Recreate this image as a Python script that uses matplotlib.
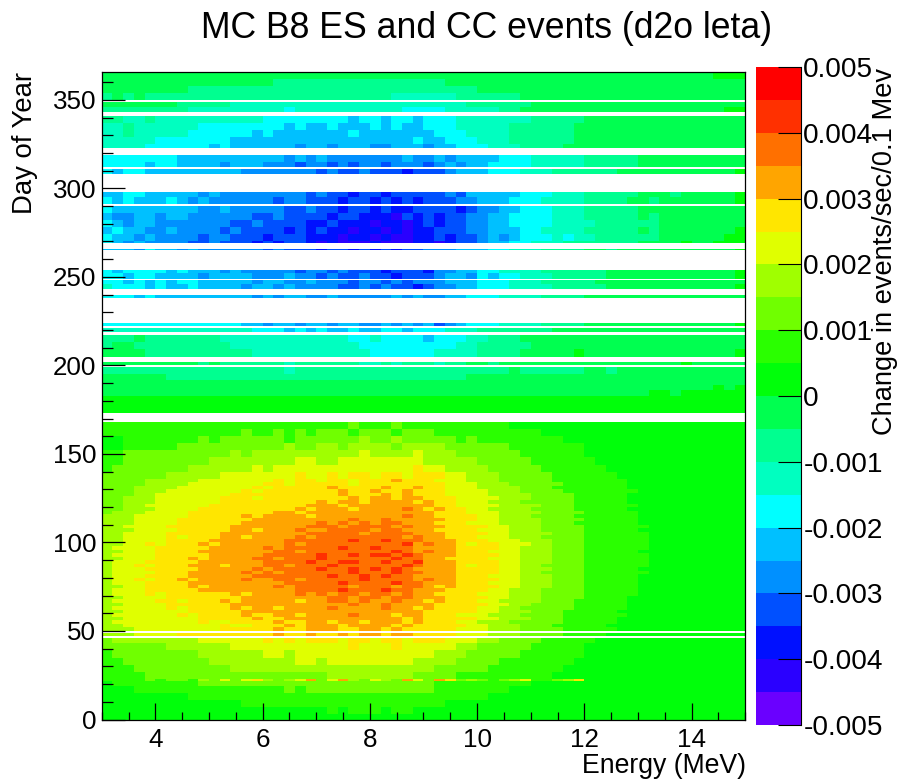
import numpy as np
import matplotlib
matplotlib.use("Agg")
import matplotlib.pyplot as plt
from matplotlib.colors import ListedColormap, BoundaryNorm
from matplotlib.ticker import MultipleLocator

plt.rcParams['font.family'] = ['Liberation Sans', 'DejaVu Sans']

TITLE = "MC B8 ES and CC events (d2o leta)"
XLABEL = "Energy (MeV)"
YLABEL = "Day of Year"
ZLABEL = "Change in events/sec/0.1 Mev"
COLORS = ["#6A00FF", "#2A00FF", "#0010FF", "#0050FF", "#0090FF", "#00C0FF", "#00FFFF",
          "#00FFC0", "#00FF90", "#00FF50", "#00FF0A", "#2AFF00", "#70FF00", "#A0FF00",
          "#E0FF00", "#FFE600", "#FFA500", "#FF7000", "#FF3000", "#FF0000"]
LEVEL_CODES = "ABCDEFGHIJKLMNOPQRST"
Z_EDGES = [-0.005 + 0.0005 * i for i in range(21)]
Z_TICKS = [-0.005, -0.004, -0.003, -0.002, -0.001, 0, 0.001, 0.002, 0.003, 0.004, 0.005]
Z_TICK_LABELS = ["-0.005", "-0.004", "-0.003", "-0.002", "-0.001", "0", "0.001", "0.002", "0.003", "0.004", "0.005"]
ENERGY_EDGES = [3 + 0.2 * i for i in range(61)]
DAY_EDGES = list(range(0, 367))

# (first day, last day, colour level per 0.2 MeV; groups are 1 MeV)
K5 = "KKKKK"
J5 = "JJJJJ"
ROWS = [
    (0, 3, " ".join([K5] * 12)),
    (3, 7, "KKKKK KKKKK KKKKK KKKKK KLKLL LKLLK KKKKK KKKKK KKKKK KKKKK KKKKK KKKKK"),
    (7, 11, "KKKKK KKKKK KKKLL LLLLL LLLLL LLLLL LLKKK KKKKK KKKKK KKKKK KKKKK KKKKK"),
    (11, 15, "KKKKK KKKLL LLLLL LLLLL LLLLL LLLLL LLLLL LKKKK KKKKK KKKKK KKKKK KKKKK"),
    (15, 19, "KKKLL LLLLL LLLLL LLMLM MMMMM MMMMM MLLLL LLLKK KKKKK KKKKK KKKKK KKKKK"),
    (19, 22, "KLLLL LLLLM MMMMM MMMMM MMMMM MMMMM MLLLL LLLLL KKKKK KKKKK KKKKK KKKKK"),
    (22, 23, "LLLLM LMMLN MOMOP NMNOQ MOQNM ONMQO MQPMN MLMNO LLMNP KKKKK KKKKK KKKKK"),
    (23, 27, "LLLLM MMMMM MMMMM MMMMM MNNNN NNNNM MMMLL LLLLL LLKKK KKKKK KKKKK KKKKK"),
    (27, 31, "LLLMM MMMMM MMNNN NNNNN NNNNN NNNNN NMMMM MLLLL LLLKK KKKKK KKKKK KKKKK"),
    (31, 35, "LLMMM MMMMM NNNNN NNNOO NOOOO OOOON NNNMM MMLLL LLLLK KKKKK KKKKK KKKKK"),
    (35, 39, "LMMMM MMMMN NNNNN OONOO OOOOO OOOOO ONNNM MMMML LLLLL KKKKK KKKKK KKKKK"),
    (39, 43, "MMMMM MNNNN NNOOO OOOOO OOOPO OOPOO OOONN MMMMM LLLLL KKKKK KKKKK KKKKK"),
    (43, 46, "MNNNN NNNNO OOOOO POPOP PPOPP OPPOP PPOOO NNMMM MLLLL LKKKK KKKKK KKKKK"),
    (47, 49, "NNNOO OOPPP PPPPP PQPPQ PPQPQ QPQQP PPPOO ONNNM MMMLL LLKKK KKKKK KKKKK"),
    (50, 52, "NNNOO OOOOO OPPPP PQPPQ QQPPQ QPQPP PPPOO ONNNM MMMLL LLLKK KKKKK KKKKK"),
    (52, 54, "NNOOO OOOOO OPOOP PPQPQ QQPQQ QQPQP PPPPO ONNNM MMLLL LLKKK KKKKK KKKKK"),
    (54, 56, "NOOOO OOOOP OOPPP PQPPQ QPQQP QQQPQ PPPOO NNNMM MMMLL LLLKK KKKKK KKKKK"),
    (56, 58, "NNOOO OOOOP PPPPQ PPQQQ QQQQQ QQQPQ PPPPP OONNN MMMLL LLLKK KKKKK KKKKK"),
    (58, 60, "NOOOO OOPOP PPPQP PQQPQ QQQRQ QQPQQ PPPOO ONNNM MMMLL LLLLK KKKKK KKKKK"),
    (60, 62, "NNOOO OOOPP PPPQQ QQQQQ QQQQQ QQQQQ PPPPP OONNN MMMLL LLLKK KKKKK KKKKK"),
    (62, 64, "NOOOO OPOPP PPQPQ QPQQQ QRQQQ QRQQP QPPPP OONNM MMMML LLLLK KKKKK KKKKK"),
    (64, 66, "NNOOO OPPPP PPQQQ QQQQQ QQQRQ QRQQQ QPPPP POONN MMMML LLLLK KKKKK KKKKK"),
    (66, 68, "NOOOO PPOPP PQPQQ QQQPQ QRRQR QQRQQ PQPPP OONNN NMMML LLLLK KKKKK KKKKK"),
    (68, 70, "NNOOO OPPPP PPPQQ QQQQQ QRRQR RQRRQ QQPPP POONN NMMMM LLLLK KKKKK KKKKK"),
    (70, 72, "NOOOP OPPPP PPQPQ QQQRQ RQRRQ RRQRQ QPPPP OOONN NMMMM LLLLL KKKKK KKKKK"),
    (72, 74, "NOOOP PPPPQ QQQQQ QQQRR RRSRR RSRRQ QQPPP POONN NMMMM LLLLL KKKKK KKKKK"),
    (74, 76, "NNOOP PPPQP QQQQQ QRQRR RRRQR RRQRR QPQPP PPOON NNMMM LLLLL KKKKK KKKKK"),
    (76, 78, "NOOOP PPPQQ QQQQQ QQRRR RRSRR RRSRR QQQPP POOON NNMMM LLLLL KKKKK KKKKK"),
    (78, 80, "NOOPO PPQPQ QQQRQ QRRQR RRRRS RRRRQ RQQPP PPOON NNMMM LLLLL KKKKK KKKKK"),
    (80, 82, "NOOOP PPPQQ QQQQR RRRRR RSRRS RSRRQ QQQPP POOON NNMMM LLLLL KKKKK KKKKK"),
    (82, 84, "NOOOO PPPQQ QQQRQ RQRRR RRRSR RRSRR QQQPP PPOON NMMMM LLLLL LKKKK KKKKK"),
    (84, 86, "NOOOP PPPPQ QQQQR QRRRR SRRSR SRSRQ QQQPP PPOON NNMMM LLLLL KKKKK KKKKK"),
    (86, 88, "NOOPO PPPQQ QPQQQ RRQRR RSRRR RRRSR QQQPO PPOON NMMMM LLLLL LKKKK KKKKK"),
    (88, 90, "NOOOP PPPPQ QQQQQ RRRRS RRSSR RSRRS QQQPP PPOON NNMMM LLLLL LKKKK KKKKK"),
    (90, 92, "NNOOO PPPQP QQQQR RQRRR SRRRR RRSRR QQPPP POOON NNMMM LLLLL LKKKK KKKKK"),
    (92, 94, "NOOOO PPPPP QQQQQ RRRRR SRRSR SSRSR QQQPP PPOON NNMMM LLLLL LKKKK KKKKK"),
    (94, 96, "NNOOO PPPPQ QQQQQ QRRQR RRRRR RRSRQ RQQPP POOON NNMMM LLLLL KKKKK KKKKK"),
    (96, 98, "NOOOO PPPPP QQQQQ RQRRR RRSRR SRRRQ QQQPP PPOON NNMMM LLLLL LKKKK KKKKK"),
    (98, 100, "NNOOP OPPPQ PQQQQ QQRQR RRRRR RRRSQ RQQPO PPOOO NNMMM LLLLL LKKKK KKKKK"),
    (100, 102, "NNOOO OPPPP QQQQQ QQRRR RRRSR RSRRR QQQPP POOON NNMMM LLLLL LKKKK KKKKK"),
    (102, 104, "NNOOO OPOPP PQQPQ QQQRQ RRRRR RRRQR QQPPP OOONN NMMMM LLLLL LKKKK KKKKK"),
    (104, 106, "NNOOO OPPPP PQQQQ QQQQR RRRRQ RRRRQ QQPPP POONN NNMMM LLLLL LKKKK KKKKK"),
    (106, 108, "NNNOO OOPPP PPQQP QQQRQ QRRRR QRRQQ QPPPP OOONN NMMMM LLLLL KKKKK KKKKK"),
    (108, 110, "NNOOO OPPPP PPQQQ QQQQR RRQRR RRQRQ QQPPP POONN NMMMM LLLLL LKKKK KKKKK"),
    (110, 112, "NNNOO OOPPP PPPQQ QQQQQ RQRQR QRRQQ QPPPO OONNN NMMML LLLLL KKKKK KKKKK"),
    (112, 114, "NNNOO OOPPP PPPPQ QQQQQ QQQRQ QRQQQ QQPPP OONNN NMMMM LLLLL KKKKK KKKKK"),
    (114, 116, "NNNOO OOOPP PPPQP QQQQP QQQQQ QQQRQ QPPPP OONNN MMMML LLLLL KKKKK KKKKK"),
    (116, 118, "MNNNO OOOPP PPPPP PQQPQ QQQQQ QQQQQ QPPPO OONNN NMMMM LLLLL KKKKK KKKKK"),
    (118, 120, "MMNNN OOOOP PPPPP PPPQP QQQPQ QQQRQ PQPPO ONNNN MMMML LLLLK KKKKK KKKKK"),
    (120, 122, "MMNNO OOOOO PPPPP PPPPQ QQPQQ QQQQQ QPPOO OONNN NMMML LLLLL KKKKK KKKKK"),
    (122, 124, "MMNNN OOOOO OPPPP PPPPP QPQQP QQQQP QPPOO ONNNM MMMML LLLLK KKKKK KKKKK"),
    (124, 126, "MMNNN OOOOO OPPPO PPPPP PPPQP QQPQQ PPPOO OONNN MMMML LLLLK KKKKK KKKKK"),
    (126, 128, "MMMNN OOOOO OOPPP PPPPP PPQPP PQPQP PPOOO ONNNN MMMML LLLLK KKKKK KKKKK"),
    (128, 130, "MMMNN NOOOO OOOPO PPPPP PPQPP QPPQP PPOOO ONNNM MMMLL LLLLL KKKKK KKKKK"),
    (130, 132, "MMMNN NNOOO OOOOP OPPPP PQPPP PQPPQ PPOOO NNNNM MMLLL LLLLK KKKKK KKKKK"),
    (132, 134, "MMMMN NNNOO OOOOO PPOPP PPPOP PPPPP PPOOO NNNMM MMMLL LLLLK KKKKK KKKKK"),
    (134, 136, "MMMMN NNNNO OOOOO OPOPP OPPOP PPQPP POOON NNMMM MMLLL LLLLK KKKKK KKKKK"),
    (136, 140, "MMMMM MNNNN NOOOO OOOPO OPOPP OPPOP PPOON NNMMM MMLLL LLLKK KKKKK KKKKK"),
    (140, 144, "LMMMM MMMNN NNNNO NOOOO OOOOO OOOOP OONNN NMMMM MLLLL LLKKK KKKKK KKKKK"),
    (144, 148, "LLMMM MMMMM NNNNN NNNOO NNOOO OOOOO NNNNN MMMMM LLLLL LKKKK KKKKK KKKKK"),
    (148, 152, "LLMMM MMMMM MMNMN NNNNN NNNNO NNNNO NNNMM MMMML LLLLL KKKKK KKKKK KKKKK"),
    (152, 156, "KKLLL LLMMM MMMMM MMNMM NNMNN NNMNN NNMMM MMMLL LLLLL KKKKK KKKKK KKKKK"),
    (156, 160, "KKLLL LLLLM LMMMM MMLMM MMMMN MMNMM MMMLM LLLLL LLLKK KKKKK KKKKK KKKKK"),
    (160, 164, "LLLLL LLLLL LLLML LMLML MMMLM MMLMM MLLLL LLLLL LKKKK KKKKK KKKKK KKKKK"),
    (164, 168, "LLLLL LLLLL LLLLL LLLLL LLLML LLMLL LLLLL LLLKK KKKKK KKKKK KKKKK KKKKK"),
    (173, 183, " ".join([K5] * 12)),
    (183, 186, "JJJJJ JJJJJ JJJJJ JJJJJ JJJJJ JJJJJ JJJJJ JJJJJ JJJJJ JJJJJ JKKJK KKKKK"),
    (186, 189, "JJJJJ JJJJJ JJJJJ JJJJJ JJJJJ JJJJJ JJJJJ JJJJJ JJJJJ JJJJJ JJJJJ JJKJK"),
    (189, 192, " ".join([J5] * 12)),
    (192, 195, "JJJJJ JIIII IIIII IIIII IIIII IIIII IIIIJ JJJJJ JJJJJ JJJJJ JJJJJ JJJJJ"),
    (195, 199, "IIIII IIIII IIIII IIHII IIIII IIIII IIIII IIIJI IIIII JJIJJ JJJJJ JJJJJ"),
    (200, 202, "JJJJJ JJJJI JIIII IIHII IIIIH HIHII IHIIJ JIJJJ JJJJJ JJJJJ JJJJK JJJJJ"),
    (205, 209, "JJJJI IIIII IIIIH HHHHH HHHHH GGGGG GHHHH IIIIJ JJJJK JJJJJ JJJJJ JJJJK"),
    (209, 213, "IJJII IIIII IIHHH HHHHH HHHHG GGGGG GGGHH IIIII JJJJJ JJJJJ JJJJJ JJJJJ"),
    (213, 217, "IIIJI IIIII IHHHH HHHHH HHHGG HGGGG FGGGH HIIIJ JJJJJ JJJJJ JJJJJ JJJJJ"),
    (219, 221, "HHHHH HHHHH HHHHG GGFGF GFFGF FGGFG GGHHH IIIII IIJJJ JJJJJ JJJJJ JJJJJ"),
    (222, 224, "GGGGG GGGGG GGGFF EFFEF FEFFE EFEFE FDEFG GGHHH HIIII JJJJJ JJJJJ JJJJK"),
    (238, 240, "GGGFG FFFFF FFFFE FEFFE EFEEE EEFEF EEFFG GGHHH HIIII JJJJJ JJJJJ JJJJJ"),
    (243, 246, "HGGGF GFFGF FFFEF FEFEE EEDDE DEDDC DEEFF GGGHH HHIII IIJJJ JJJJJ JJJJK"),
    (246, 248, "GGFGF GFGGF FFFFE FFEEF EEEDE EDEDE EEFFF GGGHH HIIII IJJJJ JJJJJ JJJJJ"),
    (249, 252, "GGFGG FFFFE FFFFE EEFEE DEDDE DDCDD DEFFE GFGGH HHIII IIJJJ JJJJJ JJJJK"),
    (252, 254, "GFGGG GFGFF FEFEE EEEDE EDEDD DCDDD CEEFF GGHHH HIIII IIJJJ JJJJJ JJJJK"),
    (265, 266, "FFFEG FFEFE EEEEE DEDDD CDDCD CDCDD EEEFF FGGHH HIIII JJIJJ JJJJJ JJJJK"),
    (269, 270, "GFEFE EEEDD EDDDC DCDDC BCBBB CBBBC CBCDD EFFGG HHHII IIIII JJJJK JJKKK"),
    (270, 274, "GFFEF EEEED EEDDD CDDDC CCBCC BCBBC CDCDD EFEFG GGHGH HIIII IIJJJ JJJKK"),
    (274, 278, "FGFFE EFEEE EDEDD DDCDC DCCBC CBCBC CDDDE EFFFG GHHHH IIIII JIJJJ JJJJK"),
    (278, 282, "GFEFF EEEEE EEDDE DDDDC CDCCC BCCBC DCDDE EFFGG GGHHH HIIII IIJJJ JJJJJ"),
    (282, 286, "FEEFF EFFEE EEEED DEDDD DCDDC CCBDC DCDDE EFFGG GGHHH IIIII JIJJJ JJJJJ"),
    (286, 290, "GFFFF FFFFE EFEEE EEDDE DDCDD CDCCD DDDCD EEFFG GGHHH IIIII JJJJJ JJJJJ"),
    (291, 295, "GFGFF FGFEF EEEEE EDEED DDCDD CDCDC DDDEE FFFGG GHHHH IIIIJ JIJJJ JJJJK"),
    (295, 298, "FFGGF FFFFE FEEEE EEEED EDDCD DCDDD DDEDF FFFFG GGHHH IIIII JJJIJ JJJJK"),
    (308, 311, "GFGGF FFFFF FFFEE EEEEE DEDDE DDDCD DDEFF FGGGH HHIII IIIJJ JJJJJ JJJJK"),
    (312, 315, "GGGGF GGFFF FEFFF EEEDE EDEDE EDEEE DEFEF FGGGG HHHHH IIIII JJJJJ JJJJJ"),
    (315, 319, "GGGGG GGFFF FFFFF FFEFE FEEEE EEEFE EFEFF FFGGG HHHHH IIIII JJJJJ JJJJJ"),
    (323, 325, "HHHHG GGGGG FGFFF FFFEF FEFFF EEFFF EFFGG GHHHI IIIJJ JJJJJ JJJJJ JJJJJ"),
    (325, 329, "HHHHH GGGGG GGFFF FFFFF FFFFF FFFFG FFGGG HHHII IIIIJ JJJJJ JJJJJ JJJJJ"),
    (329, 333, "HHIHH HHHGG GGGGF GFFFF FFFGF FFFFF FGGGH HHHII IIIIJ JJJJJ JJJJJ JJJJJ"),
    (333, 337, "HHIHH HHHHG GGGGG GGFGF FGFFF GFGFF GGGHH HHHII IIIIJ JJJJJ JJJJJ JJJJJ"),
    (337, 341, "IIHHI HHHHH HHHHH GGGGG GGGFG GFGGF GGGHH HHHHH IIIII JJJJJ JJJJJ JJJJJ"),
    (343, 346, "IIIII IIIHH HHHHH HHGHH HHHHH HHHGG GGHHH HHIIJ JJJJJ JJJJJ JJJJJ JJJKK"),
    (346, 349, "JJJJJ JJIII IIHHH HHHHH HHHHH HHHHH HHHHI IIIII JJJJJ JJJJJ JJJJJ JJJJJ"),
    (350, 354, "IJIJI IIIII IIIII IIIII IIIII IIHHH HHHII IIIIJ JJJJJ JJJJJ JJJJJ JJJJJ"),
    (354, 358, "JJJJJ JJJII IIIII IIIII IIIII IIIII IIIII JJJJJ JJJJJ JJJJJ JJJJJ JJJJJ"),
    (358, 362, "JJJJJ JJJJJ JJJJJ JIIII IIIII IIIII IIJJJ JJJJJ JJJJJ JJJJJ JJJJJ JJJJJ"),
    (362, 366, "JJJJJ JJJJJ JJJJJ JJJJJ JJJJJ JJJJJ JJJJJ JJJJJ JJJJJ JJJJJ JJJJJ JJKKK"),
]

n_e = len(ENERGY_EDGES) - 1
n_d = len(DAY_EDGES) - 1
Z = np.full((n_d, n_e), np.nan)
for d0, d1, text in ROWS:
    codes = text.replace(" ", "")
    if len(codes) != n_e:
        print("bad row", d0, len(codes))
    codes = codes[:n_e].ljust(n_e, codes[-1])
    vals = [Z_EDGES[LEVEL_CODES.index(c)] + 0.00025 for c in codes]
    Z[d0:d1, :] = vals

cmap = ListedColormap(COLORS)
norm = BoundaryNorm(Z_EDGES, cmap.N)

W, H = 902, 783
fig = plt.figure(figsize=(W / 100, H / 100), dpi=100)
ax = fig.add_axes([101.7 / W, 1 - 719.5 / H, (745.3 - 101.7) / W, (719.5 - 71.5) / H])
ax.pcolormesh(ENERGY_EDGES, DAY_EDGES, np.ma.masked_invalid(Z), cmap=cmap, norm=norm, rasterized=True)
ax.set_xlim(3, 15)
ax.set_ylim(0, 366)
ax.xaxis.set_major_locator(MultipleLocator(2))
ax.xaxis.set_minor_locator(MultipleLocator(0.5))
ax.yaxis.set_major_locator(MultipleLocator(50))
ax.yaxis.set_minor_locator(MultipleLocator(10))
ax.set_axisbelow(False)
ax.tick_params(axis='x', which='major', direction='in', length=12.3, width=0.9, labelsize=18.7, pad=6)
ax.tick_params(axis='x', which='minor', direction='in', length=6.1, width=0.9)
ax.tick_params(axis='y', which='major', direction='in', length=16.5, width=0.9, labelsize=18.7, pad=4)
ax.tick_params(axis='y', which='minor', direction='in', length=8.2, width=0.9)
for s in ax.spines.values():
    s.set_linewidth(0.9)

cax = fig.add_axes([756 / W, 1 - 725 / H, (800.5 - 756) / W, (725 - 67) / H])
level_mid = np.array(Z_EDGES[:-1]) + 0.00025
cax.pcolormesh([0, 1], Z_EDGES, level_mid.reshape(-1, 1), cmap=cmap, norm=norm, rasterized=True)
cax.set_xlim(0, 1)
cax.set_ylim(-0.005, 0.005)
cax.set_xticks([])
cax.yaxis.tick_right()
cax.set_yticks(Z_TICKS)
cax.set_yticklabels(Z_TICK_LABELS)
cax.tick_params(axis='y', direction='in', length=16.5, width=0.8, labelsize=20.2, pad=2)
for name in ('left', 'top', 'bottom'):
    cax.spines[name].set_visible(False)
cax.spines['right'].set_linewidth(0.8)

fig.text(487 / W, 1 - 28 / H, TITLE, fontsize=25.7, ha='center', va='center')
fig.text(745.5 / W, 1 - 766 / H, XLABEL, fontsize=19.2, ha='right', va='center')
fig.text(25 / W, 1 - 72 / H, YLABEL, fontsize=19.8, rotation=90, ha='center', va='top')
fig.text(885 / W, 1 - 68 / H, ZLABEL, fontsize=19.6, rotation=90, ha='center', va='top')

fig.savefig("out.png", dpi=100, facecolor='white')
